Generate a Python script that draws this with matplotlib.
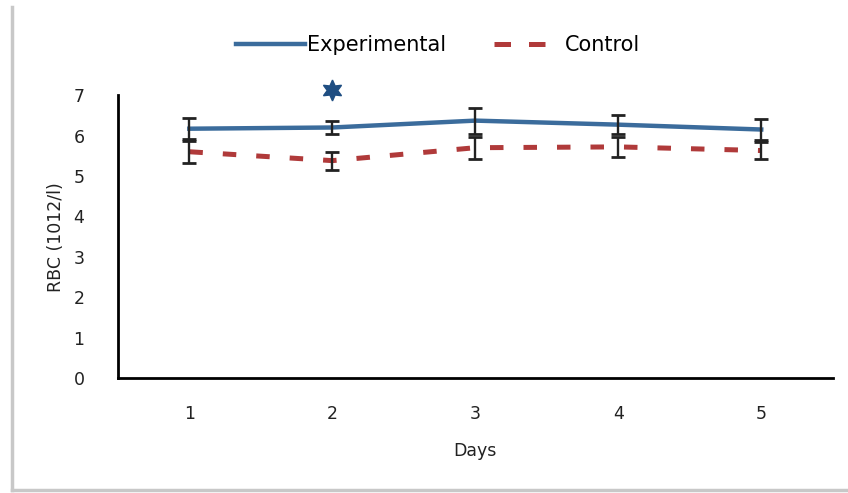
import matplotlib
matplotlib.use("Agg")
import matplotlib.pyplot as plt
from matplotlib.lines import Line2D

plt.rcParams['font.family'] = ['DejaVu Sans']

days = [1, 2, 3, 4, 5]
exp_mean = [6.17, 6.20, 6.37, 6.27, 6.15]
exp_err = [0.26, 0.17, 0.32, 0.24, 0.25]
ctrl_mean = [5.60, 5.38, 5.70, 5.72, 5.63]
ctrl_err = [0.27, 0.22, 0.27, 0.25, 0.20]
sig_days = [2]
sig_y = [7.13]

fig = plt.figure(figsize=(8.48, 4.93), dpi=100)
ax = fig.add_axes([0.139, 0.233, 0.843, 0.574])

exp_line, = ax.plot(days, exp_mean, color='#3b6c9c', lw=3.2, zorder=2)
ctrl_line, = ax.plot(days, ctrl_mean, color='#b03a3a', lw=3.6,
                     dashes=(2.7, 4.0), zorder=2)
ax.errorbar(days, exp_mean, yerr=exp_err, fmt='none', ecolor='#222222',
            elinewidth=1.7, capsize=5, capthick=2.0, zorder=3)
ax.errorbar(days, ctrl_mean, yerr=ctrl_err, fmt='none', ecolor='#222222',
            elinewidth=1.7, capsize=5, capthick=2.0, zorder=3)

# significance mark above day 2
ax.plot(sig_days, sig_y, linestyle='none', marker=(6, 1, 0), markersize=15,
        color='#1f4e82', clip_on=False, zorder=4)

ax.set_xlim(0.5, 5.5)
ax.set_ylim(0, 7)
ax.set_xticks(days)
ax.set_yticks(range(0, 8))
ax.tick_params(length=0, labelsize=12.5, colors='#222222')
ax.tick_params(axis='x', pad=19.5)
ax.tick_params(axis='y', pad=24)
for s in ['top', 'right']:
    ax.spines[s].set_visible(False)
for s in ['left', 'bottom']:
    ax.spines[s].set_linewidth(2)
    ax.spines[s].set_color('black')

ax.set_xlabel('Days', fontsize=12.5, color='#222222', labelpad=13.5)
ax.set_ylabel('RBC (1012/l)', fontsize=12.5, color='#222222', labelpad=6)

# legend key for the control series: two dashes, then a gap before the text
ctrl_key = Line2D([], [], color='#b03a3a', lw=3.6, dashes=(3.3, 3.6, 3.3, 10))
fig.legend([exp_line, ctrl_key], ['Experimental', 'Control'],
           loc='center', bbox_to_anchor=(0.517, 0.909), ncol=2, frameon=False,
           fontsize=15, handlelength=3.3, handletextpad=0.1, columnspacing=2.3)

# outer frame lines on the left and bottom
fig.add_artist(Line2D([0.0142, 0.0142], [0.006, 0.986], color='#c8c8c8', lw=2.5))
fig.add_artist(Line2D([0.0142, 1.0], [0.006, 0.006], color='#c8c8c8', lw=2.5))

fig.savefig('out.png', dpi=100)
